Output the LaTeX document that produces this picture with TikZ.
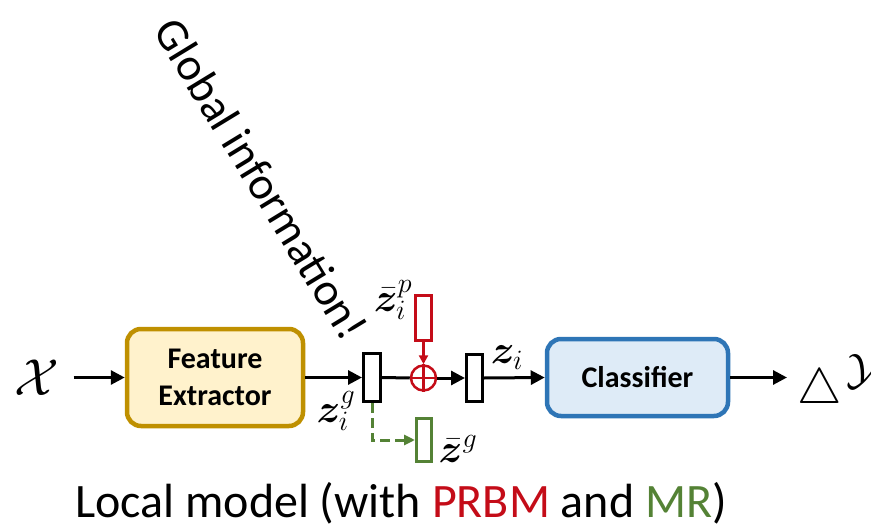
\RequirePackage{fix-cm}
\documentclass[tikz,border=0pt]{standalone}
\usepackage{amsmath,bm}
\usepackage{fontspec}
\setmainfont{Carlito}
\usetikzlibrary{arrows.meta}

\definecolor{feFill}{HTML}{FFF2CC}
\definecolor{feBorder}{HTML}{BF9000}
\definecolor{clsFill}{HTML}{DEEBF7}
\definecolor{clsBorder}{HTML}{2E75B6}
\definecolor{prbm}{RGB}{196,12,24}
\definecolor{mr}{HTML}{548235}

\begin{document}
\begin{tikzpicture}[x=1pt,y=-1pt,
  arr/.style={-{Triangle[length=14pt,width=14pt]}, line width=3pt},
  vec/.style={draw, line width=3pt, minimum width=17pt, minimum height=48pt, inner sep=0pt, fill=white},
  block/.style={rounded corners=14pt, line width=4.5pt, font=\fontsize{30}{37}\selectfont\bfseries, align=center, inner sep=0pt},
  lab/.style={inner sep=0pt, font=\fontsize{40}{44}\selectfont}
]
\useasboundingbox (0,0) rectangle (871,527);

% processing blocks
\node[block, draw=feBorder, fill=feFill, minimum width=176pt, minimum height=97pt] (fe) at (215,377.5) {Feature\\Extractor};
\node[block, draw=clsBorder, fill=clsFill, minimum width=181pt, minimum height=77pt] (cls) at (637.5,377.5) {Classifier};

% input and output
\node[inner xsep=14pt, inner ysep=0pt, font=\fontsize{52}{56}\selectfont] (x) at (37,377.5) {$\mathcal{X}$};
\node[anchor=base west, inner xsep=10pt, inner ysep=0pt] (y) at (787,403)
  {{\fontsize{50}{54}\selectfont$\triangle$}\kern5pt\raisebox{19pt}{\fontsize{44}{48}\selectfont$\mathcal{Y}$}};

% feature vectors
\node[vec] (b1) at (372,377.5) {};
\node[circle, draw=prbm, line width=2.5pt, minimum size=25pt, inner sep=0pt] (op) at (423.5,378) {};
\draw[prbm, line width=2.5pt] (op.north) -- (op.south) (op.west) -- (op.east);
\node[vec, minimum width=16pt, minimum height=47pt] (b2) at (474.5,378) {};
\node[vec, draw=prbm, minimum width=16pt, minimum height=45pt] (rb) at (423.5,318) {};
\node[vec, draw=mr, minimum width=15pt, minimum height=43pt] (gb) at (424,440) {};

% labels
\node[lab] (zg) at (336,411) {$\bm{z}_i^g$};
\node[lab] (zp) at (393,300) {$\bar{\bm{z}}_i^p$};
\node[lab] (zi) at (507,358) {$\bm{z}_i$};
\node[lab] (zbg) at (458,449) {$\bar{\bm{z}}^g$};

\node[rotate=-58.6, inner sep=0pt, font=\fontsize{46}{50}\selectfont] (gi) at (261.5,179) {Global information!};

\node[anchor=base west, inner sep=0pt, font=\fontsize{48}{52}\selectfont] (cap) at (75,517) {Local model (with \textcolor{prbm}{PRBM} and \textcolor{mr}{MR})};

% connectors
\draw[arr] (x.east) -- (fe.west);
\draw[arr] (fe.east) -- (b1.west);
\draw[line width=3pt] (b1.east) -- (op.west);
\draw[arr] (op.east) -- (b2.west);
\draw[arr] (b2.east) -- (cls.west);
\draw[arr] (cls.east) -- (cls.east -| y.west);
\draw[prbm, line width=2.5pt, -{Triangle[length=9pt,width=9pt]}] (rb.south) -- (op.north);
\draw[mr, line width=3pt, dash pattern=on 10pt off 5pt, -{Triangle[length=11pt,width=10pt]}] (b1.south) |- (gb.west);
\end{tikzpicture}
\end{document}
